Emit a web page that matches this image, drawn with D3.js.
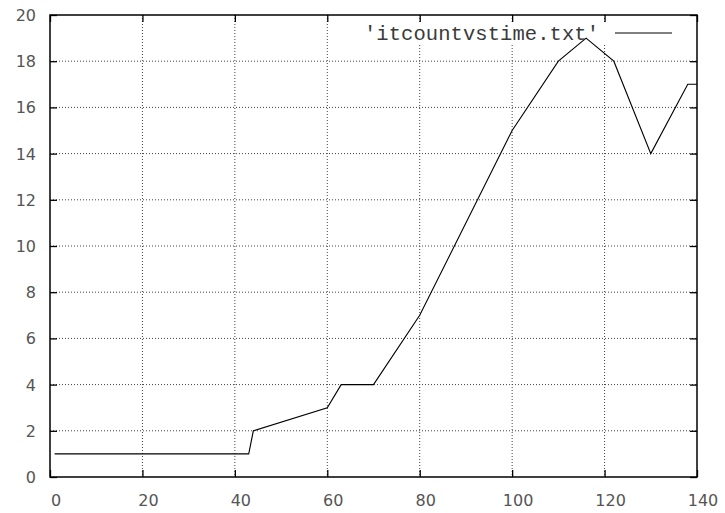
<!DOCTYPE html>
<html lang="en">
  <head>
    <meta charset="utf-8">
    <title>itcountvstime</title>
    <script src="https://cdnjs.cloudflare.com/ajax/libs/d3/7.8.5/d3.min.js"></script>
    <style>
      body { margin: 0; background: #fff; }
      .tick-label { font-family: "DejaVu Sans"; font-size: 16px; fill: #555; }
      .key { font-family: "Liberation Mono"; font-size: 20.5px; fill: #3a3a3a; }
    </style>
  </head>
  <body>
    <div id="graph"></div>

    <script type="text/javascript">
    // data
    const times = [1, 43, 44, 60, 63, 70, 80, 100, 110, 116, 122, 130, 138, 140];
    const counts = [1, 1, 2, 3, 4, 4, 7, 15, 18, 19, 18, 14, 17, 17];
    const xTicks = [0, 20, 40, 60, 80, 100, 120, 140];
    const yTicks = [0, 2, 4, 6, 8, 10, 12, 14, 16, 18, 20];
    const seriesName = "'itcountvstime.txt'";

    const w = 725;
    const h = 513;
    const padL = 50, padR = 697, padT = 15, padB = 477;

    const xScale = d3.scaleLinear().domain([0, 140]).range([padL, padR]);
    const yScale = d3.scaleLinear().domain([0, 20]).range([padB, padT]);

    const svg = d3.select("#graph")
                  .append("svg")
                  .attr("width", w)
                  .attr("height", h);

    // grid
    svg.append("g")
       .selectAll("line")
       .data(xTicks.slice(1, -1))
       .enter()
       .append("line")
       .attr("x1", d => xScale(d)).attr("x2", d => xScale(d))
       .attr("y1", padT).attr("y2", padB)
       .attr("stroke", "#444")
       .attr("stroke-dasharray", "1,2");

    svg.append("g")
       .selectAll("line")
       .data(yTicks.slice(1, -1))
       .enter()
       .append("line")
       .attr("x1", padL).attr("x2", padR)
       .attr("y1", d => yScale(d)).attr("y2", d => yScale(d))
       .attr("stroke", "#444")
       .attr("stroke-dasharray", "1,2");

    // key background hides the grid behind it
    svg.append("rect")
       .attr("x", 358)
       .attr("y", 22)
       .attr("width", 332)
       .attr("height", 21)
       .style("fill", "#fff");

    // ticks on all four sides, pointing in
    const xAxis = d3.axisBottom(xScale).tickValues(xTicks).tickSize(-7).tickFormat("");
    const xAxisTop = d3.axisTop(xScale).tickValues(xTicks).tickSize(-7).tickFormat("");
    const yAxis = d3.axisLeft(yScale).tickValues(yTicks).tickSize(-7).tickFormat("");
    const yAxisRight = d3.axisRight(yScale).tickValues(yTicks).tickSize(-7).tickFormat("");

    svg.append("g").attr("transform", "translate(0," + padB + ")").call(xAxis);
    svg.append("g").attr("transform", "translate(0," + padT + ")").call(xAxisTop);
    svg.append("g").attr("transform", "translate(" + padL + ",0)").call(yAxis);
    svg.append("g").attr("transform", "translate(" + padR + ",0)").call(yAxisRight);
    svg.selectAll(".domain").remove();
    svg.selectAll(".tick line").attr("stroke", "#000").attr("stroke-width", 1.3);

    // tick labels
    svg.append("g")
       .selectAll("text")
       .data(xTicks)
       .enter()
       .append("text")
       .attr("class", "tick-label")
       .attr("x", d => xScale(d) + 6)
       .attr("y", 506)
       .attr("text-anchor", "middle")
       .text(d => d);

    svg.append("g")
       .selectAll("text")
       .data(yTicks)
       .enter()
       .append("text")
       .attr("class", "tick-label")
       .attr("x", 36)
       .attr("y", d => yScale(d) + 6)
       .attr("text-anchor", "end")
       .text(d => d);

    // frame
    svg.append("rect")
       .attr("x", padL)
       .attr("y", padT)
       .attr("width", padR - padL)
       .attr("height", padB - padT)
       .style("fill", "none")
       .style("stroke", "#000")
       .style("stroke-width", 1.5);

    // series
    const line = d3.line()
                   .x((d, i) => xScale(times[i]))
                   .y(d => yScale(d));

    svg.append("path")
       .datum(counts)
       .attr("d", line)
       .style("fill", "none")
       .style("stroke", "#000")
       .style("stroke-width", 1.1);

    // key
    svg.append("text")
       .attr("class", "key")
       .attr("x", 599)
       .attr("y", 40)
       .attr("text-anchor", "end")
       .attr("textLength", 235)
       .text(seriesName);

    svg.append("line")
       .attr("x1", 615).attr("x2", 672)
       .attr("y1", 33).attr("y2", 33)
       .attr("stroke", "#000")
       .attr("stroke-width", 1.1);
    </script>
  </body>
</html>
